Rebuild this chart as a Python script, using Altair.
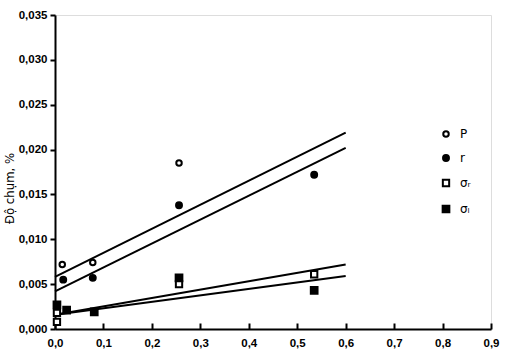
import altair as alt
import pandas as pd

# ---- data ----
series = ["P", "r", "σᵣ", "σₗ"]

p_x = [0.015, 0.078, 0.256]
p_y = [0.0072, 0.0074, 0.0185]

r_x = [0.017, 0.078, 0.256, 0.535]
r_y = [0.0055, 0.0057, 0.0138, 0.0172]

sr_x = [0.004, 0.004, 0.256, 0.535]
sr_y = [0.0008, 0.0018, 0.0050, 0.0061]

sl_x = [0.004, 0.024, 0.081, 0.256, 0.535]
sl_y = [0.0027, 0.0021, 0.0019, 0.0057, 0.0043]

# fitted straight lines (value at start and end of each line)
line_x = [0.0, 0.6]
line_p = [0.0058, 0.0219]
line_r = [0.0042, 0.0202]
line_sr = [0.0016, 0.0072]
line_sl = [0.0016, 0.0059]

x_ticks = [0.0, 0.1, 0.2, 0.3, 0.4, 0.5, 0.6, 0.7, 0.8, 0.9]
y_ticks = [0.0, 0.005, 0.010, 0.015, 0.020, 0.025, 0.030, 0.035]

rows = []
for name, xs, ys in zip(series, [p_x, r_x, sr_x, sl_x], [p_y, r_y, sr_y, sl_y]):
    for a, b in zip(xs, ys):
        rows.append({"x": a, "y": b, "s": name})
pts = pd.DataFrame(rows)

lrows = []
for name, ys in zip(series, [line_p, line_r, line_sr, line_sl]):
    for a, b in zip(line_x, ys):
        lrows.append({"x": a, "y": b, "s": name})
lines = pd.DataFrame(lrows)

FONT = "Liberation Sans"
H = 314

xscale = alt.Scale(domain=[0, 0.9], nice=False, zero=False)
yscale = alt.Scale(domain=[0, 0.035], nice=False, zero=False)

x_axis = alt.Axis(
    orient="bottom", values=x_ticks, tickSize=alt.ExprRef(expr="-6"), tickWidth=2,
    tickColor="black", domain=True, domainWidth=2,
    domainColor="black", labelExpr="replace(format(datum.value, '.1f'), '.', ',')",
    labelFont=FONT, labelFontSize=11.5, labelFontWeight="bold", labelColor="black",
    labelPadding=14, grid=False, title=None, labelFlush=False,
)
y_axis = alt.Axis(
    values=y_ticks, tickSize=5, tickWidth=2, tickColor="black", domainWidth=2,
    domainColor="black", labelExpr="replace(format(datum.value, '.3f'), '.', ',')",
    labelFont=FONT, labelFontSize=11.5, labelFontWeight="bold", labelColor="black",
    labelPadding=3, grid=False, title="Độ chụm, %", titleFont="DejaVu Sans Condensed",
    titleFontSize=13, titleFontWeight="normal", titleColor="black", titlePadding=2,
    titleY=173,
)

line_layer = alt.Chart(lines).mark_line(color="black", strokeWidth=2).encode(
    x=alt.X("x:Q", scale=xscale, axis=x_axis),
    y=alt.Y("y:Q", scale=yscale, axis=y_axis),
    detail="s:N",
)

legend = alt.Legend(
    title=None, orient="none", legendX=385, legendY=113, labelFont="DejaVu Sans",
    labelFontSize=12, labelColor="black", rowPadding=10, symbolStrokeWidth=2,
    labelOffset=8,
)

point_layer = alt.Chart(pts).mark_point(strokeWidth=2, opacity=1).encode(
    x=alt.X("x:Q", scale=xscale),
    y=alt.Y("y:Q", scale=yscale),
    shape=alt.Shape("s:N", scale=alt.Scale(domain=series, range=["circle", "circle", "square", "square"]), legend=legend),
    fill=alt.Fill("s:N", scale=alt.Scale(domain=series, range=["white", "black", "white", "black"]), legend=legend),
    stroke=alt.Stroke("s:N", scale=alt.Scale(domain=series, range=["black", "black", "black", "black"]), legend=legend),
    size=alt.Size("s:N", scale=alt.Scale(domain=series, range=[30, 45, 70, 90]), legend=legend),
)

chart = alt.layer(line_layer, point_layer).properties(
    width=436, height=H,
    autosize=alt.AutoSizeParams(type="none"),
    padding={"left": 55, "top": 15, "right": 17, "bottom": 28},
).configure_view(stroke=None).configure(background="white")

chart.save("out.html", embed_options={"renderer": "svg", "actions": False})
